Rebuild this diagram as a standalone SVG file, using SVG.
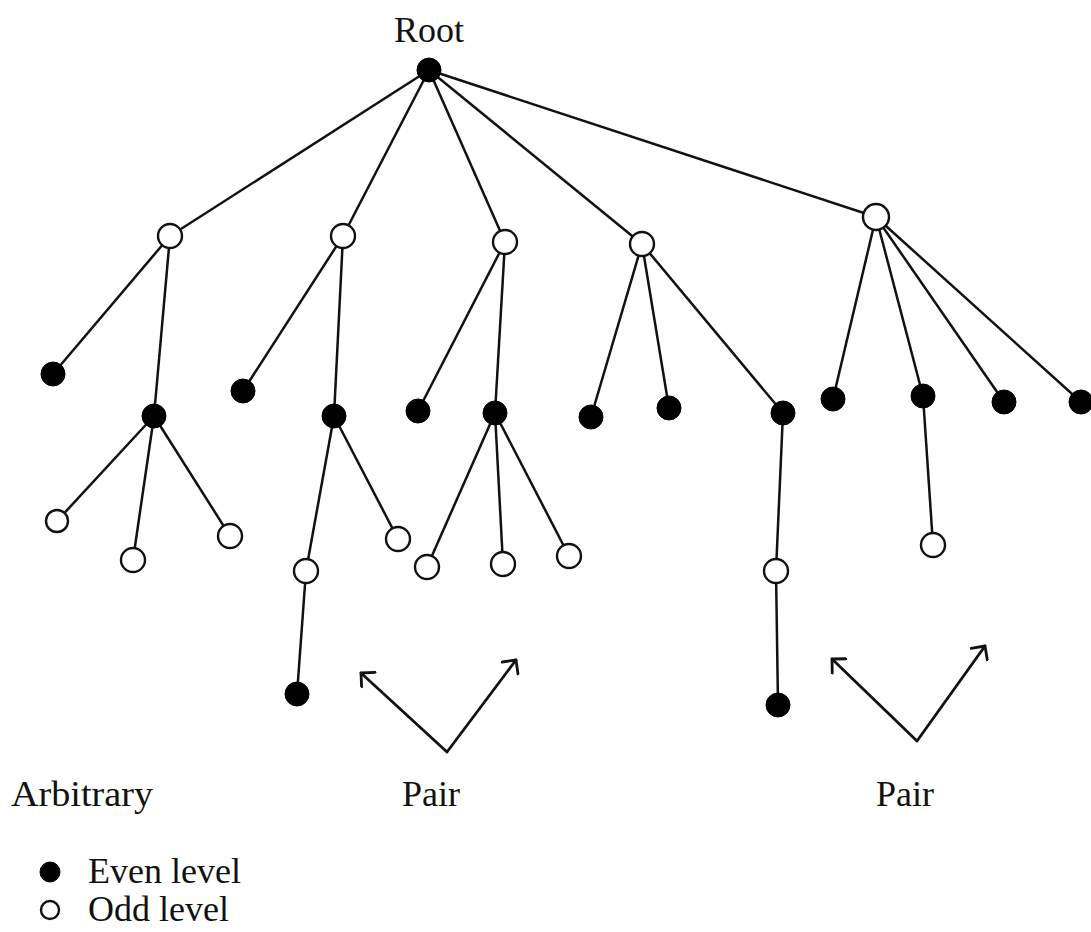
<svg xmlns="http://www.w3.org/2000/svg" width="1091" height="932" viewBox="0 0 1091 932">
  <style>
    .edge { stroke: #111; stroke-width: 2.5; fill: none; }
    .arrow { stroke: #111; stroke-width: 2.8; fill: none; stroke-linecap: round; stroke-linejoin: round; }
    .even { fill: #000; stroke: #000; stroke-width: 1; }
    .odd { fill: #fff; stroke: #111; stroke-width: 2.4; }
    .label { font-family: "Liberation Serif", "Times New Roman", serif; font-size: 36px; fill: #111; }
  </style>
  <defs>
    <marker id="open-head" viewBox="0 0 22 22" refX="15" refY="11" markerWidth="22" markerHeight="22" markerUnits="userSpaceOnUse" orient="auto-start-reverse">
      <path d="M5,1 L15,11 L5,21" fill="none" stroke="#111" stroke-width="2.8" stroke-linecap="round" stroke-linejoin="round"/>
    </marker>
  </defs>
  <rect width="1091" height="932" fill="#fff"/>

  <!-- tree edges -->
  <g id="connectors">
    <line class="edge" x1="429" y1="70" x2="170" y2="236"/>
    <line class="edge" x1="429" y1="70" x2="343" y2="236"/>
    <line class="edge" x1="429" y1="70" x2="505" y2="242"/>
    <line class="edge" x1="429" y1="70" x2="642" y2="244"/>
    <line class="edge" x1="429" y1="70" x2="876" y2="217"/>

    <line class="edge" x1="170" y1="236" x2="53" y2="374"/>
    <line class="edge" x1="170" y1="236" x2="154" y2="416"/>
    <line class="edge" x1="154" y1="416" x2="57" y2="521"/>
    <line class="edge" x1="154" y1="416" x2="133" y2="560"/>
    <line class="edge" x1="154" y1="416" x2="230" y2="536"/>

    <line class="edge" x1="343" y1="236" x2="243" y2="391"/>
    <line class="edge" x1="343" y1="236" x2="334" y2="416"/>
    <line class="edge" x1="334" y1="416" x2="306" y2="571"/>
    <line class="edge" x1="334" y1="416" x2="398" y2="539"/>
    <line class="edge" x1="306" y1="571" x2="297" y2="694"/>

    <line class="edge" x1="505" y1="242" x2="418" y2="411"/>
    <line class="edge" x1="505" y1="242" x2="495" y2="413"/>
    <line class="edge" x1="495" y1="413" x2="427" y2="567"/>
    <line class="edge" x1="495" y1="413" x2="503" y2="564"/>
    <line class="edge" x1="495" y1="413" x2="569" y2="556"/>

    <line class="edge" x1="642" y1="244" x2="591" y2="417"/>
    <line class="edge" x1="642" y1="244" x2="669" y2="408"/>
    <line class="edge" x1="642" y1="244" x2="783" y2="413"/>
    <line class="edge" x1="783" y1="413" x2="776" y2="571"/>
    <line class="edge" x1="776" y1="571" x2="778" y2="705"/>

    <line class="edge" x1="876" y1="217" x2="833" y2="399"/>
    <line class="edge" x1="876" y1="217" x2="923" y2="396"/>
    <line class="edge" x1="876" y1="217" x2="1004" y2="402"/>
    <line class="edge" x1="876" y1="217" x2="1081" y2="402"/>
    <line class="edge" x1="923" y1="396" x2="933" y2="545"/>

    <!-- pair indicators -->
    <polyline class="arrow" points="361,673 447,752 516,660" marker-start="url(#open-head)" marker-end="url(#open-head)"/>
    <polyline class="arrow" points="832,659 917,741 985,646" marker-start="url(#open-head)" marker-end="url(#open-head)"/>
  </g>

  <!-- nodes -->
  <g id="root"><circle class="even" cx="429" cy="70" r="12"/></g>

  <g id="n-a"><circle class="odd" cx="170" cy="236" r="12"/></g>
  <g id="n-b"><circle class="odd" cx="343" cy="236" r="12"/></g>
  <g id="n-c"><circle class="odd" cx="505" cy="242" r="12"/></g>
  <g id="n-d"><circle class="odd" cx="642" cy="244" r="12"/></g>
  <g id="n-e"><circle class="odd" cx="876" cy="217" r="13"/></g>

  <g id="n-a1"><circle class="even" cx="53" cy="374" r="12"/></g>
  <g id="n-a2"><circle class="even" cx="154" cy="416" r="12"/></g>
  <g id="n-a2a"><circle class="odd" cx="57" cy="521" r="11"/></g>
  <g id="n-a2b"><circle class="odd" cx="133" cy="560" r="12"/></g>
  <g id="n-a2c"><circle class="odd" cx="230" cy="536" r="12"/></g>

  <g id="n-b1"><circle class="even" cx="243" cy="391" r="12"/></g>
  <g id="n-b2"><circle class="even" cx="334" cy="416" r="12"/></g>
  <g id="n-b2a"><circle class="odd" cx="306" cy="571" r="12"/></g>
  <g id="n-b2b"><circle class="odd" cx="398" cy="539" r="12"/></g>
  <g id="n-b2a1"><circle class="even" cx="297" cy="694" r="12"/></g>

  <g id="n-c1"><circle class="even" cx="418" cy="411" r="12"/></g>
  <g id="n-c2"><circle class="even" cx="495" cy="413" r="12"/></g>
  <g id="n-c2a"><circle class="odd" cx="427" cy="567" r="12"/></g>
  <g id="n-c2b"><circle class="odd" cx="503" cy="564" r="12"/></g>
  <g id="n-c2c"><circle class="odd" cx="569" cy="556" r="12"/></g>

  <g id="n-d1"><circle class="even" cx="591" cy="417" r="12"/></g>
  <g id="n-d2"><circle class="even" cx="669" cy="408" r="12"/></g>
  <g id="n-d3"><circle class="even" cx="783" cy="413" r="12"/></g>
  <g id="n-d3a"><circle class="odd" cx="776" cy="571" r="12"/></g>
  <g id="n-d3a1"><circle class="even" cx="778" cy="705" r="12"/></g>

  <g id="n-e1"><circle class="even" cx="833" cy="399" r="12"/></g>
  <g id="n-e2"><circle class="even" cx="923" cy="396" r="12"/></g>
  <g id="n-e3"><circle class="even" cx="1004" cy="402" r="12"/></g>
  <g id="n-e4"><circle class="even" cx="1081" cy="402" r="12"/></g>
  <g id="n-e2a"><circle class="odd" cx="933" cy="545" r="12"/></g>

  <!-- labels -->
  <text class="label" x="429" y="42" text-anchor="middle">Root</text>
  <text class="label" x="11" y="806" textLength="142" lengthAdjust="spacingAndGlyphs">Arbitrary</text>
  <text class="label" x="431" y="806" text-anchor="middle">Pair</text>
  <text class="label" x="905" y="806" text-anchor="middle">Pair</text>

  <!-- legend -->
  <g id="legend">
    <circle class="even" cx="50" cy="872" r="10"/>
    <text class="label" x="88" y="883">Even level</text>
    <circle class="odd" cx="50" cy="910" r="9"/>
    <text class="label" x="88" y="921">Odd level</text>
  </g>
</svg>
